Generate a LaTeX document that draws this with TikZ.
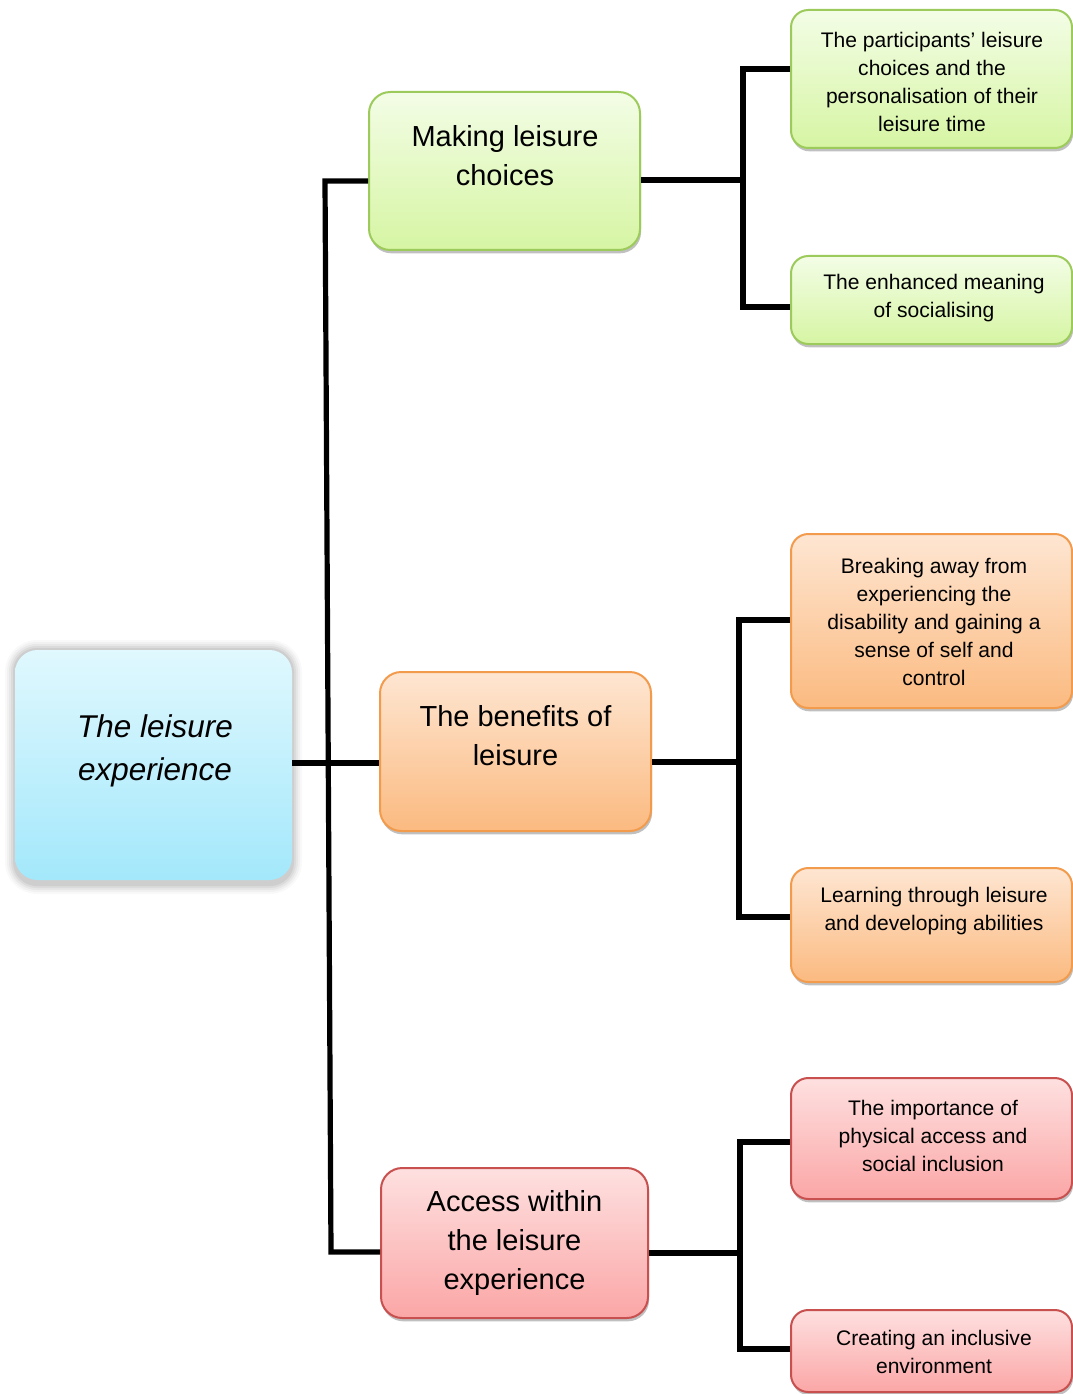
\documentclass[tikz,border=0pt]{standalone}
\usepackage{fontspec}
\setmainfont{Liberation Sans}
\usetikzlibrary{shadows}
\definecolor{gTop}{HTML}{F3FDE6}
\definecolor{gBot}{HTML}{D6F5A3}
\definecolor{gDraw}{HTML}{9CCB5B}
\definecolor{oTop}{HTML}{FEE6D2}
\definecolor{oBot}{HTML}{FBBA80}
\definecolor{oDraw}{HTML}{F29B4C}
\definecolor{rTop}{HTML}{FEE0E0}
\definecolor{rBot}{HTML}{FBA6A6}
\definecolor{rDraw}{HTML}{C8504E}
\definecolor{cTop}{HTML}{E0F8FE}
\definecolor{cBot}{HTML}{A3E8FB}
\tikzset{
  shbox/.style={rectangle, inner sep=0pt, line width=1.5pt,
    drop shadow={opacity=0.35, shadow xshift=0.8pt, shadow yshift=-2.5pt, fill=black!70}},
  midbox/.style={shbox, rounded corners=16pt},
  leafbox/.style={shbox, rounded corners=13pt, minimum width=210.75pt},
  greenbox/.style={top color=gTop, bottom color=gBot, draw=gDraw},
  orangebox/.style={top color=oTop, bottom color=oBot, draw=oDraw},
  redbox/.style={top color=rTop, bottom color=rBot, draw=rDraw},
  roottext/.style={font=\fontsize{23.6pt}{32.25pt}\selectfont\itshape, align=center, inner sep=0pt},
  midtext/.style={font=\fontsize{21.75pt}{29.25pt}\selectfont, align=center, inner sep=0pt},
  leaftext/.style={font=\fontsize{15.8pt}{21pt}\selectfont, align=center, inner sep=0pt},
  conn/.style={line width=3.9pt, black, line join=miter}
}
\begin{document}
\begin{tikzpicture}[x=0.75pt, y=-0.75pt]
\useasboundingbox (0,0) rectangle (1073,1394);
\fill[white] (0,0) rectangle (1073,1394);

% root glow
\foreach \i/\o in {10/0.025,8/0.03,6/0.04,4/0.05,2/0.06}
  \fill[black, opacity=\o, rounded corners={(22+\i)*0.75pt}] ({15-\i},{650-\i}) rectangle ({292+\i},{884+\i});
\node[rectangle, rounded corners=17pt, top color=cTop, bottom color=cBot,
      minimum width=207.75pt, minimum height=172.5pt, inner sep=0pt] (rootbox) at (153.5,765) {};
\node[roottext] (roottxt) at (155,751) {The leisure\\experience};

% middle level
\node[midbox, greenbox, minimum width=203.25pt, minimum height=118.5pt] (mkbox) at (504.5,171) {};
\node[midtext] (mktxt) at (505,155.5) {Making leisure\\choices};
\node[midbox, orangebox, minimum width=203.25pt, minimum height=119.25pt] (bnbox) at (515.5,751.5) {};
\node[midtext] (bntxt) at (515.5,736) {The benefits of\\leisure};
\node[midbox, redbox, minimum width=200.25pt, minimum height=112.5pt] (acbox) at (514.5,1243) {};
\node[midtext] (actxt) at (514.5,1242.5) {Access within\\the leisure\\experience};

% leaves
\node[leafbox, greenbox, minimum height=103.5pt] (l1box) at (931.5,79) {};
\begin{scope}
  \clip (791,10) rectangle (1073,131.5);
  \node[leaftext] (l1txt) at (932,82) {The participants’ leisure\\choices and the\\personalisation of their\\leisure time};
\end{scope}
\node[leafbox, greenbox, minimum height=66pt] (l2box) at (931.5,300) {};
\node[leaftext] (l2txt) at (934,298) {The enhanced meaning\\of socialising};

\node[leafbox, orangebox, minimum height=130.5pt] (l3box) at (931.5,621) {};
\node[leaftext] (l3txt) at (934,622) {Breaking away from\\experiencing the\\disability and gaining a\\sense of self and\\control};
\node[leafbox, orangebox, minimum height=85.5pt] (l4box) at (931.5,925) {};
\node[leaftext] (l4txt) at (934,911) {Learning through leisure\\and developing abilities};

\node[leafbox, redbox, minimum height=90.75pt] (l5box) at (931.5,1138.5) {};
\node[leaftext] (l5txt) at (933,1136) {The importance of\\physical access and\\social inclusion};
\node[leafbox, redbox, minimum height=61.5pt] (l6box) at (931.5,1351) {};
\node[leaftext] (l6txt) at (934,1352) {Creating an inclusive\\environment};

% connectors: trunk
\coordinate (tTop) at (325,181);
\coordinate (tBot) at (331,1252);
\coordinate (rj) at (328,763);
\draw[conn] (rootbox.east |- rj) -- (bnbox.west |- rj);
\draw[conn] (mkbox.west |- tTop) -- (tTop) -- (tBot) -- (acbox.west |- tBot);

% making branches
\coordinate (mj) at (743,180);
\coordinate (m1) at (743,69);
\coordinate (m2) at (743,307);
\draw[conn] (mkbox.east |- mj) -- (mj);
\draw[conn] (l1box.west |- m1) -- (m1) -- (m2) -- (l2box.west |- m2);

% benefits branches
\coordinate (bj) at (739,762);
\coordinate (b1) at (739,620);
\coordinate (b2) at (739,917);
\draw[conn] (bnbox.east |- bj) -- (bj);
\draw[conn] (l3box.west |- b1) -- (b1) -- (b2) -- (l4box.west |- b2);

% access branches
\coordinate (aj) at (740,1253);
\coordinate (a1) at (740,1142);
\coordinate (a2) at (740,1349);
\draw[conn] (acbox.east |- aj) -- (aj);
\draw[conn] (l5box.west |- a1) -- (a1) -- (a2) -- (l6box.west |- a2);
\end{tikzpicture}
\end{document}
